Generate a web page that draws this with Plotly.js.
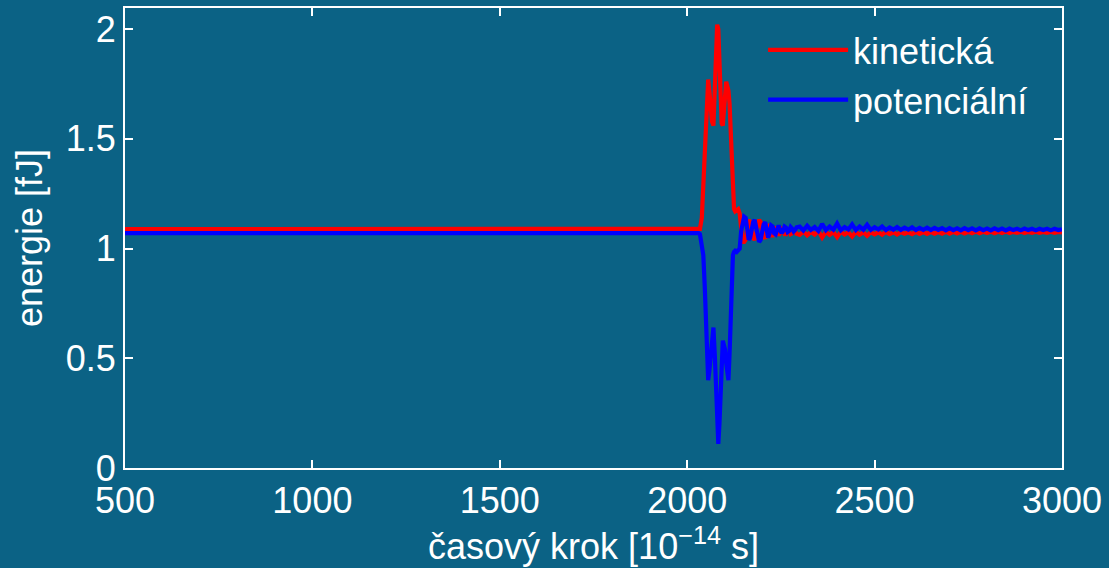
<!DOCTYPE html>
<html>
<head>
<meta charset="utf-8">
<script src="https://cdn.plot.ly/plotly-3.0.1.min.js"></script>
<style>
  html, body { margin: 0; padding: 0; background: #0b6285; }
  #chart { width: 1109px; height: 568px; }
</style>
</head>
<body>
<div id="chart"></div>
<script>
// time steps [1e-14 s]
const timeStep = [
  500, 2030,
  2034, 2039, 2043, 2047, 2050, 2053, 2056, 2059, 2062, 2066, 2070, 2074, 2077, 2080, 2083, 2086, 2089,
  2092, 2095, 2098, 2101, 2104, 2107, 2110, 2113, 2116, 2119, 2122, 2125, 2128, 2132, 2136, 2140, 2144, 2148,
  2152, 2156, 2160, 2164, 2168, 2172, 2176, 2180, 2184, 2188, 2192, 2196, 2200, 2204, 2208, 2212, 2216, 2220,
  2224, 2228, 2232, 2236, 2240, 2244, 2248, 2252, 2256, 2260, 2264, 2268, 2272, 2276, 2280, 2284, 2288, 2292,
  2300, 2310, 2320, 2330, 2340, 2350, 2360, 2370, 2380, 2390, 2400, 2410, 2420, 2430, 2440, 2450, 2460, 2470,
  2480, 2490, 2500, 2510, 2520, 2530, 2540, 2550, 2560, 2570, 2580, 2590, 2600, 2610, 2620, 2630, 2640, 2650,
  2660, 2670, 2680, 2690, 2700, 2710, 2720, 2730, 2740, 2750, 2760, 2770, 2780, 2790, 2800, 2810, 2820, 2830,
  2840, 2850, 2860, 2870, 2880, 2890, 2900, 2910, 2920, 2930, 2940, 2950, 2960, 2970, 2980, 2990, 3000
];

// kinetic energy [fJ]
const kinetic = [
  1.088, 1.088,
  1.090, 1.140, 1.300, 1.480, 1.620, 1.720, 1.770, 1.720, 1.620, 1.580, 1.560, 1.750, 1.920, 2.020, 2.000, 1.850, 1.680,
  1.570, 1.560, 1.640, 1.730, 1.760, 1.740, 1.720, 1.660, 1.520, 1.380, 1.250, 1.180, 1.170, 1.175, 1.180, 1.160, 1.070, 1.030,
  1.030, 1.040, 1.090, 1.130, 1.120, 1.080, 1.050, 1.040, 1.060, 1.110, 1.130, 1.120, 1.085, 1.055, 1.045, 1.070, 1.110, 1.100,
  1.060, 1.060, 1.090, 1.100, 1.080, 1.060, 1.070, 1.090, 1.085, 1.065, 1.065, 1.085, 1.080, 1.066, 1.070, 1.082, 1.078, 1.067,
  1.062, 1.078, 1.060, 1.076, 1.064, 1.080, 1.050, 1.076, 1.062, 1.075, 1.052, 1.077, 1.064, 1.074, 1.055, 1.076, 1.063, 1.074,
  1.058, 1.075, 1.065, 1.074, 1.063, 1.076, 1.066, 1.074, 1.064, 1.075, 1.067, 1.074, 1.066, 1.076, 1.067, 1.075, 1.067, 1.076,
  1.068, 1.075, 1.068, 1.077, 1.068, 1.076, 1.069, 1.077, 1.069, 1.076, 1.070, 1.077, 1.070, 1.076, 1.071, 1.077, 1.070, 1.076,
  1.071, 1.077, 1.071, 1.076, 1.072, 1.077, 1.071, 1.076, 1.072, 1.077, 1.072, 1.076, 1.072, 1.077, 1.072, 1.076, 1.074
];

// potential energy [fJ]
const potential = [
  1.070, 1.070,
  1.065, 1.020, 0.970, 0.820, 0.660, 0.500, 0.400, 0.440, 0.500, 0.600, 0.640, 0.500, 0.360, 0.180, 0.110, 0.200, 0.380,
  0.540, 0.580, 0.560, 0.540, 0.480, 0.420, 0.400, 0.520, 0.680, 0.850, 0.970, 0.985, 0.990, 0.985, 0.990, 1.000, 1.080, 1.120,
  1.145, 1.140, 1.080, 1.040, 1.050, 1.090, 1.120, 1.130, 1.100, 1.060, 1.030, 1.040, 1.080, 1.110, 1.120, 1.090, 1.050, 1.070,
  1.105, 1.100, 1.070, 1.065, 1.090, 1.105, 1.085, 1.070, 1.080, 1.100, 1.095, 1.075, 1.080, 1.098, 1.090, 1.078, 1.085, 1.097,
  1.100, 1.082, 1.104, 1.085, 1.098, 1.080, 1.112, 1.084, 1.100, 1.086, 1.114, 1.083, 1.098, 1.087, 1.110, 1.084, 1.100, 1.086,
  1.108, 1.085, 1.097, 1.087, 1.100, 1.084, 1.096, 1.086, 1.098, 1.085, 1.095, 1.086, 1.097, 1.084, 1.094, 1.085, 1.095, 1.084,
  1.094, 1.085, 1.093, 1.083, 1.093, 1.084, 1.092, 1.083, 1.093, 1.084, 1.092, 1.083, 1.092, 1.084, 1.091, 1.083, 1.092, 1.084,
  1.091, 1.083, 1.091, 1.084, 1.090, 1.083, 1.091, 1.084, 1.090, 1.083, 1.090, 1.084, 1.090, 1.083, 1.090, 1.084, 1.088
];

const xTicks = [500, 1000, 1500, 2000, 2500, 3000];
const yTicks = [0, 0.5, 1, 1.5, 2];
const yTickLabels = ['0', '0.5', '1', '1.5', '2'];

const FONT = 'Liberation Sans, Arial, Helvetica, sans-serif';
const BG = '#0b6285';

const traces = [
  {
    x: timeStep, y: kinetic, type: 'scatter', mode: 'lines', name: 'kinetická',
    line: { color: '#ff0000', width: 4.2 }
  },
  {
    x: timeStep, y: potential, type: 'scatter', mode: 'lines', name: 'potenciální',
    line: { color: '#0000ff', width: 4.2 }
  }
];

const axisCommon = {
  showgrid: false, zeroline: false,
  showline: true, linecolor: '#ffffff', linewidth: 2,
  mirror: 'ticks', ticks: 'inside', ticklen: 8, tickwidth: 2, tickcolor: '#ffffff',
  tickfont: { family: FONT, size: 36, color: '#ffffff' }
};

const layout = {
  width: 1109, height: 568,
  paper_bgcolor: BG, plot_bgcolor: BG,
  margin: { l: 125, r: 47, t: 8, b: 100 },
  font: { family: FONT, color: '#ffffff', size: 36 },
  showlegend: true,
  legend: {
    x: 0.681, y: 0.974, xanchor: 'left', yanchor: 'top',
    bgcolor: 'rgba(0,0,0,0)', borderwidth: 0,
    font: { family: FONT, size: 36, color: '#ffffff' },
    itemwidth: 80, tracegroupgap: 0
  },
  xaxis: Object.assign({}, axisCommon, {
    range: [500, 3000], tickvals: xTicks,
    title: { text: 'časový krok [10<sup>−14</sup> s]', font: { family: FONT, size: 36, color: '#ffffff' }, standoff: 1 }
  }),
  yaxis: Object.assign({}, axisCommon, {
    range: [0, 2.096], tickvals: yTicks, ticktext: yTickLabels,
    title: { text: 'energie [fJ]', font: { family: FONT, size: 36, color: '#ffffff' }, standoff: 12 }
  })
};

Plotly.newPlot('chart', traces, layout, { displayModeBar: false, staticPlot: true });
</script>
</body>
</html>
